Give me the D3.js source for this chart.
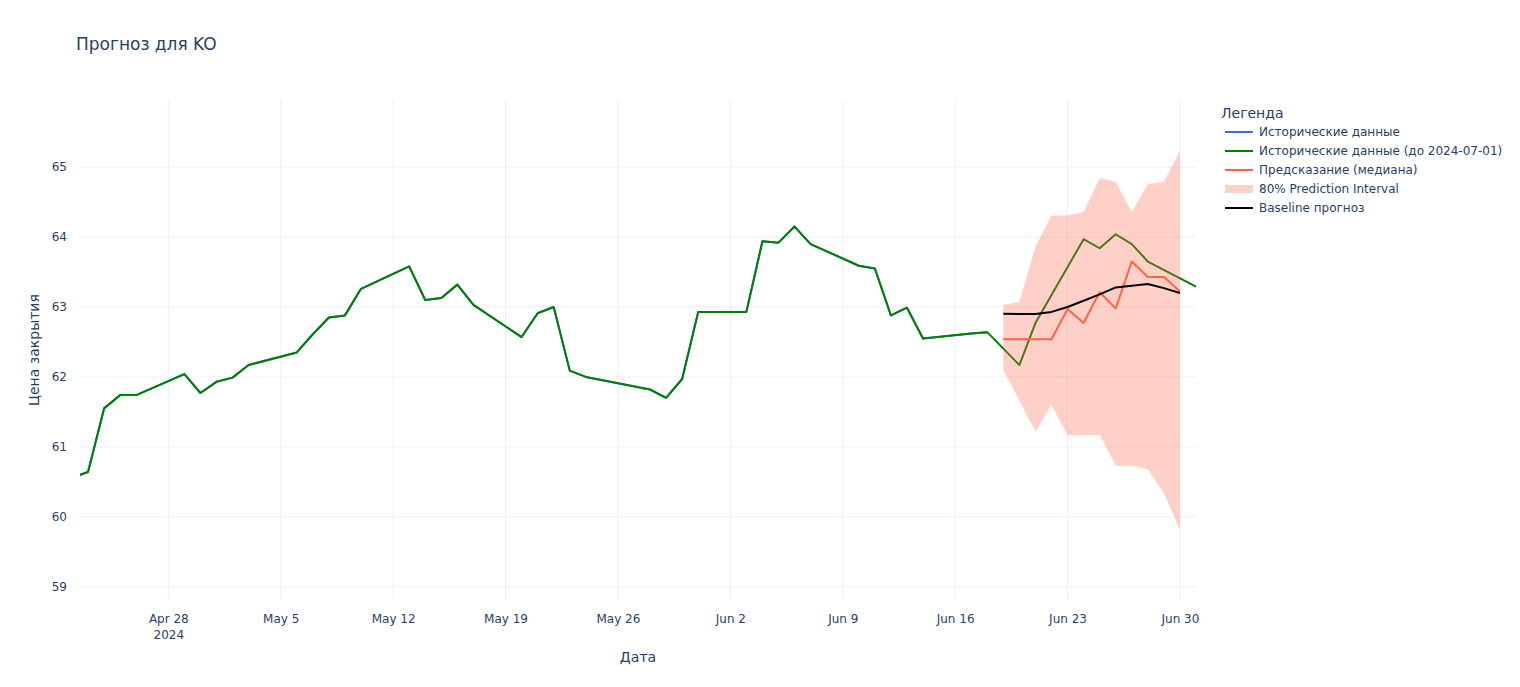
<!DOCTYPE html>
<html>
<head>
<meta charset="utf-8">
<script src="https://cdn.jsdelivr.net/npm/d3@7/dist/d3.min.js"></script>
<style>
  body { margin: 0; background: #fff; }
  svg { display: block; font-family: "DejaVu Sans", Verdana, sans-serif; }
</style>
</head>
<body>
<div id="chart"></div>
<script>
// ---------- DATA ----------
const histDates = ["2024-04-22","2024-04-23","2024-04-24","2024-04-25","2024-04-26",
  "2024-04-29","2024-04-30","2024-05-01","2024-05-02","2024-05-03",
  "2024-05-06","2024-05-07","2024-05-08","2024-05-09","2024-05-10",
  "2024-05-13","2024-05-14","2024-05-15","2024-05-16","2024-05-17",
  "2024-05-20","2024-05-21","2024-05-22","2024-05-23","2024-05-24",
  "2024-05-28","2024-05-29","2024-05-30","2024-05-31",
  "2024-06-03","2024-06-04","2024-06-05","2024-06-06","2024-06-07",
  "2024-06-10","2024-06-11","2024-06-12","2024-06-13","2024-06-14",
  "2024-06-17","2024-06-18"];
const histValues = [60.56,60.64,61.55,61.74,61.74,
  62.04,61.77,61.93,61.99,62.17,
  62.35,62.61,62.85,62.88,63.26,
  63.58,63.10,63.13,63.32,63.03,
  62.57,62.91,63.00,62.09,62.00,
  61.82,61.70,61.97,62.93,
  62.93,63.94,63.92,64.15,63.90,
  63.59,63.55,62.88,62.99,62.55,
  62.62,62.64];
// actuals continuing to 2024-07-01
const fullExtraDates = ["2024-06-20","2024-06-21","2024-06-24","2024-06-25","2024-06-26","2024-06-27","2024-06-28","2024-07-01"];
const fullExtraValues = [62.17,62.77,63.97,63.84,64.04,63.90,63.65,63.29];

const fcDates = ["2024-06-19","2024-06-20","2024-06-21","2024-06-22","2024-06-23","2024-06-24",
  "2024-06-25","2024-06-26","2024-06-27","2024-06-28","2024-06-29","2024-06-30"];
const medianValues = [62.54,62.54,62.54,62.54,62.97,62.77,63.21,62.98,63.65,63.43,63.43,63.22];
const lowerValues  = [62.10,61.66,61.22,61.60,61.17,61.17,61.17,60.73,60.73,60.68,60.34,59.81];
const upperValues  = [63.03,63.07,63.86,64.31,64.31,64.36,64.84,64.79,64.36,64.76,64.79,65.23];
const baselineValues = [62.905,62.90,62.90,62.93,63.00,63.09,63.18,63.28,63.305,63.33,63.27,63.20];

const xTickDates = ["2024-04-28","2024-05-05","2024-05-12","2024-05-19","2024-05-26","2024-06-02","2024-06-09","2024-06-16","2024-06-23","2024-06-30"];
const xTickLabels = ["Apr 28","May 5","May 12","May 19","May 26","Jun 2","Jun 9","Jun 16","Jun 23","Jun 30"];
const yTicks = [59,60,61,62,63,64,65];

const xDomain = ["2024-04-22T12:00","2024-07-01T00:00"];
const yDomain = [58.81, 65.96];

const legendLabels = ["Исторические данные","Исторические данные (до 2024-07-01)","Предсказание (медиана)","80% Prediction Interval","Baseline прогноз"];
const colors = { hist: "#4169e1", full: "#008000", median: "#ff6347", band: "rgba(255,99,71,0.3)", baseline: "#000000" };

// ---------- LAYOUT ----------
const W = 1520, H = 687;
const m = { left: 80, right: 1196, top: 100, bottom: 600 };
const parse = d3.timeParse("%Y-%m-%d");
const parseT = d3.timeParse("%Y-%m-%dT%H:%M");
const FONT = '"DejaVu Sans", Verdana, sans-serif';

const svg = d3.select("#chart").append("svg").attr("width", W).attr("height", H);

const x = d3.scaleTime().domain(xDomain.map(parseT)).range([m.left, m.right]);
const y = d3.scaleLinear().domain(yDomain).range([m.bottom, m.top]);

const textColor = "#2a3f5f";
const gridColor = "#ebf0f8";

// grid
const grid = svg.append("g");
grid.selectAll("line.gx").data(xTickDates).join("line")
  .attr("x1", d => x(parse(d))).attr("x2", d => x(parse(d)))
  .attr("y1", m.top).attr("y2", m.bottom)
  .attr("stroke", gridColor).attr("stroke-width", 1);
grid.selectAll("line.gy").data(yTicks).join("line")
  .attr("x1", m.left).attr("x2", m.right)
  .attr("y1", d => y(d)).attr("y2", d => y(d))
  .attr("stroke", gridColor).attr("stroke-width", 1);

// axes
const xAxis = d3.axisBottom(x).tickValues(xTickDates.map(parse))
  .tickFormat((d, i) => xTickLabels[i]).tickSize(0).tickPadding(14);
const gx = svg.append("g").attr("transform", `translate(0,${m.bottom})`).call(xAxis);
gx.select(".domain").remove();
gx.selectAll("text").attr("fill", textColor).style("font-size", "12px").style("font-family", FONT);
gx.selectAll(".tick").filter((d, i) => i === 0).select("text")
  .append("tspan").attr("x", 0).attr("dy", "1.4em").text("2024");

const yAxis = d3.axisLeft(y).tickValues(yTicks).tickFormat(d3.format("d")).tickSize(0).tickPadding(13);
const gy = svg.append("g").attr("transform", `translate(${m.left},0)`).call(yAxis);
gy.select(".domain").remove();
gy.selectAll("text").attr("fill", textColor).style("font-size", "12px").style("font-family", FONT);

// clip
svg.append("clipPath").attr("id", "clip").append("rect")
  .attr("x", m.left).attr("y", m.top).attr("width", m.right - m.left).attr("height", m.bottom - m.top);
const plot = svg.append("g").attr("clip-path", "url(#clip)");

const histData = histDates.map((d, i) => ({ d: parse(d), v: histValues[i] }));
const fullData = histData.concat(fullExtraDates.map((d, i) => ({ d: parse(d), v: fullExtraValues[i] })));
const fc = fcDates.map((d, i) => ({ d: parse(d), med: medianValues[i], lo: lowerValues[i], hi: upperValues[i], base: baselineValues[i] }));

const line = d3.line().x(p => x(p.d)).y(p => y(p.v));

plot.append("path").datum(histData).attr("d", line).attr("fill", "none")
  .attr("stroke", colors.hist).attr("stroke-width", 2).attr("stroke-linejoin", "round");
plot.append("path").datum(fullData).attr("d", line).attr("fill", "none")
  .attr("stroke", colors.full).attr("stroke-width", 2).attr("stroke-linejoin", "round");
plot.append("path").datum(fc).attr("d", d3.line().x(p => x(p.d)).y(p => y(p.med))).attr("fill", "none")
  .attr("stroke", colors.median).attr("stroke-width", 2).attr("stroke-linejoin", "round");
plot.append("path").datum(fc)
  .attr("d", d3.area().x(p => x(p.d)).y0(p => y(p.lo)).y1(p => y(p.hi)))
  .attr("fill", colors.band).attr("stroke", "none");
plot.append("path").datum(fc).attr("d", d3.line().x(p => x(p.d)).y(p => y(p.base))).attr("fill", "none")
  .attr("stroke", colors.baseline).attr("stroke-width", 2).attr("stroke-linejoin", "round");

// titles
svg.append("text").attr("x", 76).attr("y", 50).text("Прогноз для KO")
  .attr("fill", textColor).style("font-size", "17px");
svg.append("text").attr("x", (m.left + m.right) / 2).attr("y", 662).attr("text-anchor", "middle")
  .text("Дата").attr("fill", textColor).style("font-size", "14px");
svg.append("text").attr("transform", `translate(39,${(m.top + m.bottom) / 2}) rotate(-90)`)
  .attr("text-anchor", "middle").text("Цена закрытия").attr("fill", textColor).style("font-size", "14px");

// legend
const lg = svg.append("g").attr("transform", "translate(1221,0)");
lg.append("text").attr("x", 0).attr("y", 118).text("Легенда").attr("fill", textColor).style("font-size", "14px");
const legendKeys = ["hist", "full", "median", "band", "baseline"];
legendKeys.forEach((k, i) => {
  const cy = 132 + i * 19;
  if (k === "band") {
    lg.append("rect").attr("x", 4).attr("y", cy - 4).attr("width", 28).attr("height", 8).attr("fill", colors.band);
  } else {
    lg.append("line").attr("x1", 4).attr("x2", 32).attr("y1", cy).attr("y2", cy)
      .attr("stroke", colors[k]).attr("stroke-width", 2);
  }
  lg.append("text").attr("x", 38).attr("y", cy + 4).text(legendLabels[i])
    .attr("fill", textColor).style("font-size", "12px");
});
</script>
</body>
</html>
